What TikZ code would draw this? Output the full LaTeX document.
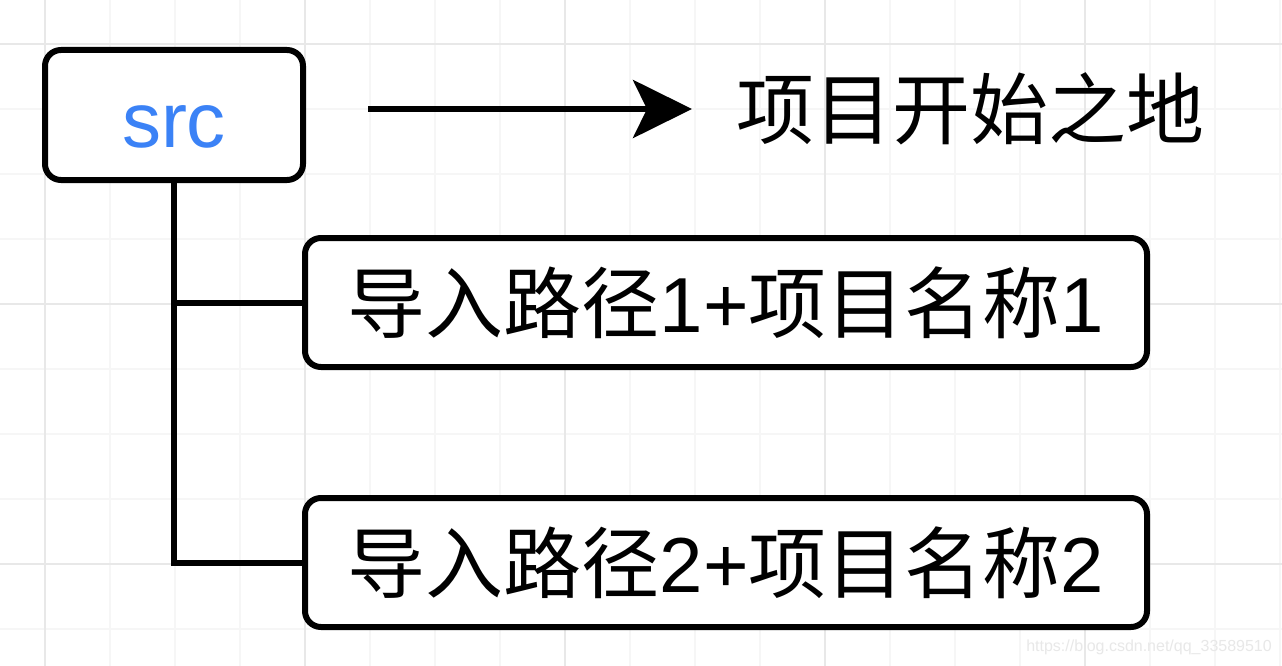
\documentclass[tikz,border=0pt]{standalone}
\usepackage{fontspec}
\setmainfont{Liberation Sans}
\newfontfamily\cjk{Noto Sans CJK SC}
\usetikzlibrary{arrows.meta}
\definecolor{srcblue}{HTML}{3B82F6}
\definecolor{minorgrid}{HTML}{F6F6F6}
\definecolor{majorgrid}{HTML}{E8E8E8}
\definecolor{markgray}{HTML}{E8E8E8}
\begin{document}
\begin{tikzpicture}[x=1pt,y=-1pt,
  box/.style={draw,line width=6pt,rounded corners=16pt,inner sep=0pt,fill=white},
  big/.style={font=\fontsize{78}{80}\selectfont},
  link/.style={line width=6pt}]
  \useasboundingbox (0,0) rectangle (1282,666);
  \fill[white] (0,0) rectangle (1282,666);
  % grid
  \foreach \x in {45,110,...,1282} \draw[minorgrid,line width=1.2pt] (\x,0) -- (\x,666);
  \foreach \y in {44,109,...,666} \draw[minorgrid,line width=1.2pt] (0,\y) -- (1282,\y);
  \foreach \x in {45,305,...,1282} \draw[majorgrid,line width=1.2pt] (\x,0) -- (\x,666);
  \foreach \y in {44,304,564} \draw[majorgrid,line width=1.2pt] (0,\y) -- (1282,\y);
  % boxes
  \node[box,big,text=srcblue,text height=66pt,text depth=0pt,minimum width=258pt,minimum height=130pt] (src) at (174,115) {src};
  \node[box,big,minimum width=842pt,minimum height=129pt] (path1) at (726,302.5) {{\cjk 导入路径}1+{\cjk 项目名称}1};
  \node[box,big,minimum width=842pt,minimum height=129pt] (path2) at (726,562.5) {{\cjk 导入路径}2+{\cjk 项目名称}2};
  \node[big,anchor=west,inner sep=0pt] (land) at (736,109) {\cjk 项目开始之地};
  % connectors
  \coordinate (start) at (368,109);
  \draw[link,-{Stealth[length=59pt,width=58pt,inset=14pt]},shorten >=44pt] (start) -- (land.west);
  \draw[link] (src.south) |- (path2.west);
  \draw[link] (src.south |- path1.west) -- (path1.west);
  \node[font=\fontsize{16}{16}\selectfont,text=markgray,anchor=east,inner sep=0pt] (mark) at (1272,647) {https://blog.csdn.net/qq\_33589510};
\end{tikzpicture}
\end{document}
